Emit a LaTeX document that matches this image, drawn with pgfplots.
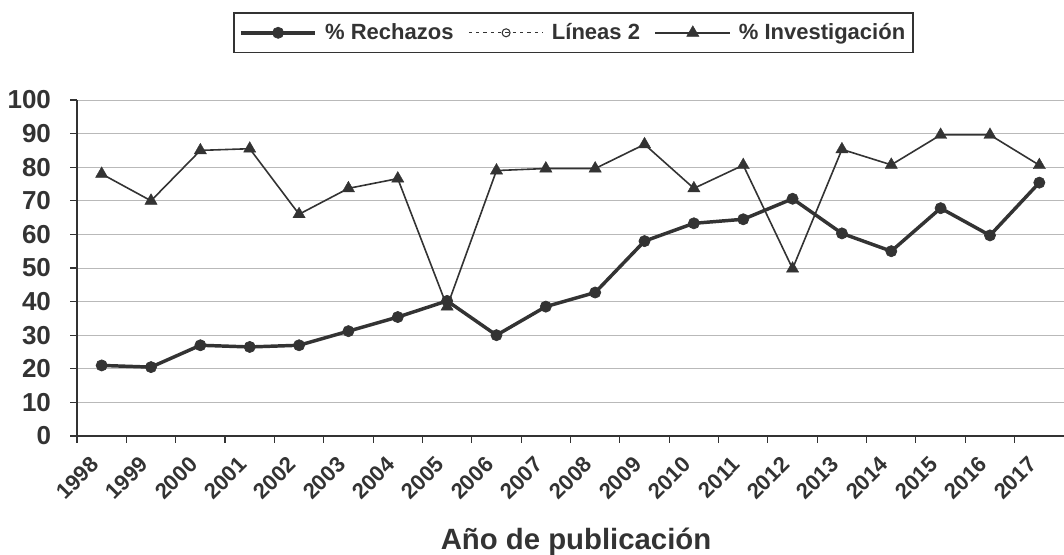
\documentclass[border=0pt]{standalone}
\usepackage{fontspec}
\setmainfont{Liberation Sans}
\usepackage{pgfplots}
\pgfplotsset{compat=1.18}
\definecolor{ln}{HTML}{333333}
\pgfplotstableread{
year rech inv
1998.5 21.0 78.0
1999.5 20.5 70.0
2000.5 27.0 85.0
2001.5 26.5 85.5
2002.5 27.0 66.0
2003.5 31.2 73.7
2004.5 35.4 76.6
2005.5 40.2 38.5
2006.5 30.0 79.0
2007.5 38.5 79.6
2008.5 42.7 79.6
2009.5 58.0 86.8
2010.5 63.3 73.7
2011.5 64.5 80.6
2012.5 70.6 49.8
2013.5 60.3 85.3
2014.5 55.0 80.7
2015.5 67.8 89.6
2016.5 59.7 89.6
2017.5 75.4 80.6
}\datatable
\begin{document}
\begin{tikzpicture}
\begin{axis}[
  scale only axis, width=740.25pt, height=252pt,
  xmin=1998, xmax=2018, ymin=0, ymax=100,
  axis x line*=bottom, axis y line*=left,
  xtick={1998,...,2017}, ytick={0,10,...,100},
  tick align=outside, major tick length=5pt,
  ymajorgrids, grid style={gray!55, line width=0.6pt},
  x axis line style={line width=1.5pt, ln, -},
  y axis line style={line width=1pt, ln, -},
  tick style={line width=0.8pt, ln},
  /pgf/number format/assume math mode=true,
  /pgf/number format/1000 sep={},
  yticklabel style={font=\fontsize{19.5}{19.5}\selectfont\bfseries, text=ln, xshift=-11pt},
  xticklabel style={font=\fontsize{16.5}{16.5}\selectfont\bfseries, text=ln, rotate=45, anchor=north east, inner sep=1pt, xshift=1pt, yshift=-12pt},
  xlabel={Año de publicación},
  xlabel style={font=\fontsize{22}{22}\selectfont\bfseries, text=ln, at={(axis description cs:0.5056,0)}, anchor=base, yshift=-85.5pt},
  legend columns=3,
  legend style={at={(axis description cs:0.503,1.2)}, anchor=center, draw=ln, line width=1.2pt,
    font=\fontsize{16.5}{17}\selectfont\bfseries, text=ln, inner xsep=4pt, inner ysep=6pt,
    /tikz/every odd column/.append style={column sep=4pt},
    /tikz/every even column/.append style={column sep=9pt}},
  legend image code/.code={\draw[mark repeat=2,mark phase=2] plot coordinates {(0pt,0pt) (28pt,0pt) (56pt,0pt)};},
  clip=false
]
\addplot[ln, line width=2.6pt, mark=*, mark size=4.2pt, mark options={line width=0.5pt}] table[x=year,y=rech]{\datatable};
\addlegendentry{\% Rechazos}
\addlegendimage{ln, line width=0.8pt, dash pattern=on 2.5pt off 3pt, mark=o, mark size=3pt, mark options={solid, line width=0.8pt}}
\addlegendentry{Líneas 2}
\addplot[ln, line width=1.2pt, mark=triangle*, mark size=5.3pt, mark options={line width=0.3pt}] table[x=year,y=inv]{\datatable};
\addlegendentry{\% Investigación}
\end{axis}
\pgfresetboundingbox
\path[use as bounding box] ([shift={(-57.75pt,-89.25pt)}]current axis.south west) rectangle ([shift={(740.25pt,327pt)}]current axis.south west);
\end{tikzpicture}
\end{document}
